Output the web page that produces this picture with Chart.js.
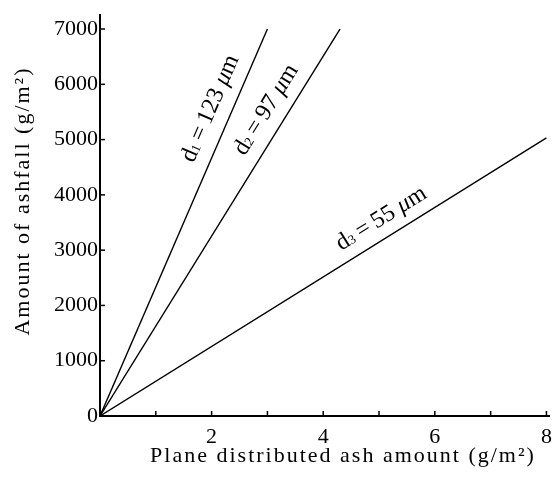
<!DOCTYPE html>
<html>
<head>
<meta charset="utf-8">
<script src="https://cdn.jsdelivr.net/npm/chart.js@4"></script>
<style>
  body { margin: 0; background: #fff; }
  #wrap { width: 560px; height: 479px; }
</style>
</head>
<body>
<div id="wrap"><canvas id="ashfall"></canvas></div>
<script>
// line end points (plane amount g/m2 -> ashfall g/m2)
var d1Plane = [0, 3.0];
var d1Fall = [0, 7000];
var d2Plane = [0, 4.3];
var d2Fall = [0, 7000];
var d3Plane = [0, 8.0];
var d3Fall = [0, 5030];

var subs = ["1", "2", "3"];
var sizes = ["123", "97", "55"];
// where each label sits, in data units
var labelX = [1.98, 2.98, 5.04];
var labelY = [5560, 5540, 3570];

var xTicks = [0, 1, 2, 3, 4, 5, 6, 7, 8];
var xLabelled = [2, 4, 6, 8];
var yTicks = [0, 1000, 2000, 3000, 4000, 5000, 6000, 7000];

var xTitle = 'Plane distributed ash amount (g/m\u00b2)';
var yTitle = 'Amount of ashfall (g/m\u00b2)';

var serif = '"Liberation Serif", "DejaVu Serif", serif';

function pts(xs, ys) {
  return xs.map(function (x, i) { return { x: x, y: ys[i] }; });
}

var lineLabels = {
  id: 'lineLabels',
  afterDraw: function (chart) {
    var ctx = chart.ctx;
    var xs = chart.scales.x, ys = chart.scales.y;
    var area = chart.chartArea;
    ctx.save();
    ctx.strokeStyle = '#000';
    ctx.lineWidth = 1.5;
    // inward tick marks
    xTicks.forEach(function (t) {
      if (t === 0) return;
      var px = xs.getPixelForValue(t);
      ctx.beginPath(); ctx.moveTo(px, area.bottom); ctx.lineTo(px, area.bottom - 5); ctx.stroke();
    });
    yTicks.forEach(function (t) {
      if (t === 0) return;
      var py = ys.getPixelForValue(t);
      ctx.beginPath(); ctx.moveTo(area.left, py); ctx.lineTo(area.left + 5, py); ctx.stroke();
    });

    // axis titles, spaced out like the print
    ctx.fillStyle = '#000';
    ctx.font = '22px ' + serif;
    ctx.letterSpacing = '2px';
    ctx.textAlign = 'center';
    ctx.textBaseline = 'alphabetic';
    ctx.fillText(xTitle, 343, 462);
    ctx.save();
    ctx.translate(23, 201);
    ctx.rotate(-Math.PI / 2);
    ctx.textBaseline = 'middle';
    ctx.fillText(yTitle, 0, 0);
    ctx.restore();
    ctx.letterSpacing = '0px';

    // labels along each line
    chart.data.datasets.forEach(function (ds, i) {
      var a = ds.data[0], b = ds.data[ds.data.length - 1];
      var ang = Math.atan2(ys.getPixelForValue(b.y) - ys.getPixelForValue(a.y),
                           xs.getPixelForValue(b.x) - xs.getPixelForValue(a.x));
      var parts = [
        { t: 'd', f: '24px ' + serif, dy: 0 },
        { t: subs[i], f: '13px ' + serif, dy: 3 },
        { t: '\u2009=\u2009' + sizes[i] + ' ', f: '24px ' + serif, dy: 0 },
        { t: '\u03bc', f: 'italic 24px ' + serif, dy: 0 },
        { t: 'm', f: '24px ' + serif, dy: 0 }
      ];
      var w = 0;
      parts.forEach(function (p) { ctx.font = p.f; p.w = ctx.measureText(p.t).width; w += p.w; });
      ctx.save();
      ctx.translate(xs.getPixelForValue(labelX[i]), ys.getPixelForValue(labelY[i]));
      ctx.rotate(ang);
      ctx.textAlign = 'left';
      ctx.textBaseline = 'middle';
      var x = -w / 2;
      parts.forEach(function (p) {
        ctx.font = p.f;
        ctx.fillText(p.t, x, p.dy);
        x += p.w;
      });
      ctx.restore();
    });
    ctx.restore();
  }
};

new Chart(document.getElementById('ashfall'), {
  type: 'scatter',
  data: {
    datasets: [
      { data: pts(d1Plane, d1Fall) },
      { data: pts(d2Plane, d2Fall) },
      { data: pts(d3Plane, d3Fall) }
    ]
  },
  options: {
    responsive: true,
    maintainAspectRatio: false,
    animation: false,
    showLine: true,
    layout: { padding: { top: 14, right: 9, left: 0, bottom: 0 } },
    elements: {
      point: { radius: 0, hoverRadius: 0 },
      line: { borderColor: '#000', borderWidth: 1.4, tension: 0 }
    },
    plugins: { legend: { display: false }, tooltip: { enabled: false } },
    scales: {
      x: {
        type: 'linear', min: 0, max: 8.05,
        afterBuildTicks: function (s) { s.ticks = xTicks.map(function (v) { return { value: v }; }); },
        afterFit: function (s) { s.height = 63; },
        grid: { drawOnChartArea: false, drawTicks: false },
        border: { color: '#000', width: 2 },
        ticks: {
          autoSkip: false, maxRotation: 0,
          padding: 8, color: '#000', font: { family: serif, size: 22 },
          callback: function (v) { return xLabelled.indexOf(v) >= 0 ? String(v) : ''; }
        }
      },
      y: {
        type: 'linear', min: 0, max: 7250,
        afterBuildTicks: function (s) { s.ticks = yTicks.map(function (v) { return { value: v }; }); },
        afterFit: function (s) { s.width = 100; },
        grid: { drawOnChartArea: false, drawTicks: false },
        border: { color: '#000', width: 2 },
        ticks: {
          autoSkip: false, padding: 2, color: '#000',
          font: { family: serif, size: 22 },
          callback: function (v) { return String(v); }
        }
      }
    }
  },
  plugins: [lineLabels]
});
</script>
</body>
</html>
